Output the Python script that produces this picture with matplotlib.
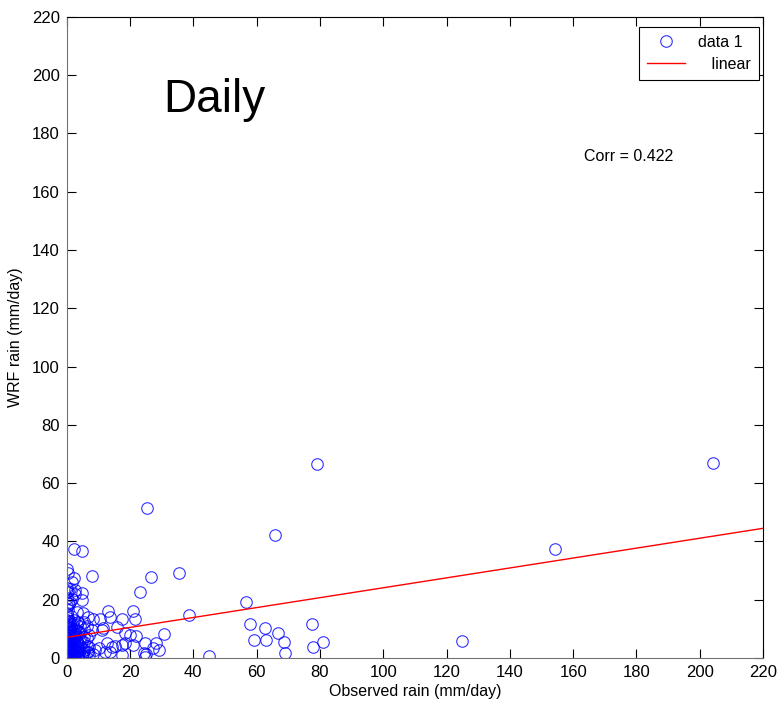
import numpy as np
import matplotlib
matplotlib.use('Agg')
import matplotlib.pyplot as plt

plt.rcParams['font.family'] = ['Liberation Sans', 'DejaVu Sans']

# points far from the origin
obs_far = [204.1, 154.2, 124.9, 79.1, 65.8, 56.6, 57.9, 59.3, 62.7, 62.9, 66.7, 68.6,
           68.9, 77.4, 77.7, 81.0, 35.4, 38.5, 45.0, 25.3, 26.5, 23.2, 30.9, 28.3,
           24.7, 25.0, 27.4, 29.2, 24.7]
wrf_far = [66.9, 37.4, 5.8, 66.6, 42.3, 19.2, 11.7, 6.3, 10.4, 6.1, 8.7, 5.4,
           1.7, 11.6, 3.8, 5.5, 29.2, 14.9, 0.8, 51.6, 27.9, 22.8, 8.2, 5.2,
           5.2, 1.4, 3.3, 2.7, 0.4]

# points between 5 and 25 mm/day
obs_mid = [8.1, 13.1, 13.7, 10.5, 8.4, 6.8, 5.0, 17.4, 21.0, 21.6, 15.8, 18.4,
           20.0, 21.9, 11.6, 7.9, 21.0, 17.4, 15.3, 14.2, 10.3, 9.0, 6.8, 13.7,
           17.4, 24.5, 5.2, 8.4, 12.6, 12.1, 18.4, 11.1]
wrf_mid = [28.2, 16.2, 14.2, 13.3, 13.3, 14.0, 15.3, 13.3, 16.2, 13.3, 10.7, 8.5,
           7.9, 7.5, 10.2, 9.6, 4.5, 4.5, 4.1, 3.9, 3.3, 2.7, 2.2, 2.2,
           1.0, 1.8, 1.6, 1.4, 5.0, 2.2, 5.2, 9.6]

# dense cluster near the origin
obs_near = ([0.0] * 25 + [0.3] * 14 + [0.6] * 10 + [1.0] * 12 + [1.4] * 9 + [1.8] * 9
            + [2.2] * 9 + [2.7] * 9 + [3.2] * 7 + [3.7] * 6 + [4.2] * 6 + [4.7] * 6
            + [5.5] * 6 + [6.3] * 4 + [7.2] * 3)
wrf_near = [0, 0.3, 0.8, 1.2, 1.8, 2.5, 3.1, 3.9, 4.6, 5.4, 6.2, 7.0, 7.9, 8.8, 9.6,
            10.5, 11.4, 12.3, 13.1, 15.0, 17.8, 20.5, 22.6, 24.1, 30.5,
            0.1, 1.0, 2.2, 3.5, 5.0, 6.6, 8.1, 9.9, 11.8, 13.9, 16.4, 19.0, 23.0, 29.2,
            0.4, 1.6, 2.9, 4.2, 5.8, 7.4, 9.2, 11.0, 12.7, 18.6,
            0.0, 0.9, 2.0, 3.3, 4.9, 6.0, 7.7, 9.0, 10.3, 12.0, 19.3, 23.8,
            0.6, 1.9, 3.0, 4.4, 5.5, 7.1, 8.5, 10.8, 14.4,
            0.2, 1.4, 2.7, 4.0, 6.3, 8.9, 11.6, 20.1, 26.0,
            0.5, 1.8, 3.6, 5.1, 7.3, 9.6, 13.0, 27.3, 37.5,
            0.1, 1.2, 2.5, 4.5, 6.7, 8.2, 10.1, 23.3, 22.0,
            0.8, 2.1, 3.9, 5.9, 7.8, 11.2, 15.8,
            0.3, 1.5, 3.0, 5.2, 9.4, 12.5,
            0.6, 2.3, 4.1, 6.6, 8.6, 10.9,
            1.0, 3.3, 6.0, 19.9, 22.4, 36.7,
            0.4, 2.8, 5.4, 7.2, 9.9, 12.4,
            1.9, 4.0, 6.9, 11.0,
            0.9, 3.7, 8.0]

fit_slope = 0.17
fit_intercept = 7.1
corr = 0.422

obs = np.array(obs_near + obs_mid + obs_far)
wrf = np.array(wrf_near + wrf_mid + wrf_far)

fig = plt.figure(figsize=(7.79, 7.10), dpi=100)
ax = fig.add_axes([0.0856, 0.0732, 0.894, 0.9033])

ax.plot(obs, wrf, 'o', markersize=8.3, markerfacecolor='none',
        markeredgecolor='blue', markeredgewidth=0.8, alpha=0.8, label='data 1')
xf = np.array([0, 220])
ax.plot(xf, fit_intercept + fit_slope * xf, color='red', linewidth=1,
        label='   linear')

ax.set_xlim(0, 220)
ax.set_ylim(0, 220)
ax.set_xticks(np.arange(0, 221, 20))
ax.set_yticks(np.arange(0, 221, 20))
ax.tick_params(direction='in', length=6.5, top=True, right=True,
               labelsize=12, colors='black', pad=5)
for s in ['left', 'bottom']:
    ax.spines[s].set_color('0.45')
for s in ['top', 'right']:
    ax.spines[s].set_color('black')
ax.spines[:].set_linewidth(0.8)

ax.set_xlabel('Observed rain (mm/day)', fontsize=11.5, labelpad=3)
ax.set_ylabel('WRF rain (mm/day)', fontsize=11.5, labelpad=6)

ax.text(30.4, 187.3, 'Daily', fontsize=33, ha='left', va='baseline')
ax.text(163.4, 172.0, 'Corr = %.3f' % corr, fontsize=11.5, ha='left', va='center')

leg = ax.legend(loc='upper right', bbox_to_anchor=(0.9935, 0.9845), fontsize=11.5,
                frameon=True, fancybox=False, edgecolor='black', framealpha=1,
                borderpad=0.5, handlelength=2.4, labelspacing=0.45, borderaxespad=0)
leg.get_frame().set_linewidth(0.8)

fig.savefig('out.png', dpi=100)
